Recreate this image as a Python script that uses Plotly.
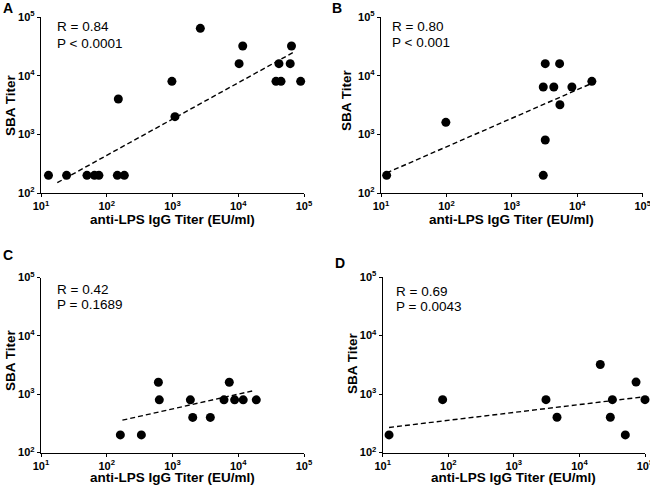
import plotly.graph_objects as go

# ---------------- data ----------------
a_x = [13, 24.5, 50, 65, 76, 145, 185, 150, 980, 1090, 2650, 10300, 11700, 37500, 44700, 41600, 61700, 64500, 89000]
a_y = [200, 200, 200, 200, 200, 200, 200, 4000, 8000, 2000, 64000, 16000, 32000, 8000, 8000, 16000, 16000, 32000, 8000]
a_fit_x = [17.7, 73000]
a_fit_y = [150, 25900]

b_x = [12.2, 98, 3020, 3240, 3020, 3240, 4380, 5370, 5430, 8280, 16700]
b_y = [200, 1600, 200, 800, 6400, 16000, 6400, 16000, 3200, 6400, 8000]
b_fit_x = [12.2, 15800]
b_fit_y = [220, 7200]

c_x = [161, 336, 610, 630, 1870, 2030, 3760, 6070, 7310, 8810, 11900, 18800]
c_y = [200, 200, 1600, 800, 800, 400, 400, 800, 1600, 800, 800, 800]
c_fit_x = [173, 17600]
c_fit_y = [358, 1155]

d_x = [12.5, 82, 3090, 4550, 20800, 29600, 31800, 50100, 73000, 100000]
d_y = [200, 800, 800, 400, 3200, 400, 800, 200, 1600, 800]
d_fit_x = [12.5, 100000]
d_fit_y = [268, 900]

panel_labels = ["A", "B", "C", "D"]
r_texts = ["R = 0.84", "R = 0.80", "R = 0.42", "R = 0.69"]
p_texts = ["P < 0.0001", "P < 0.001", "P = 0.1689", "P = 0.0043"]

tick_vals = [10, 100, 1000, 10000, 100000]
x_tick_text = ["10<sup>1</sup>", "10<sup>2</sup>", "10<sup>3</sup>", "10<sup>4</sup>", "10<sup>5</sup>"]
y_tick_vals = [100, 1000, 10000, 100000]
y_tick_text = ["10<sup>2</sup>", "10<sup>3</sup>", "10<sup>4</sup>", "10<sup>5</sup>"]

x_title = "anti-LPS IgG Titer (EU/ml)"
y_title = "SBA Titer"

# ---------------- layout geometry (pixels) ----------------
W, H = 650, 488
FONT = "Liberation Sans, Arial, sans-serif"

# plot areas: (left, right, top, bottom) in px
areas = [
    (41, 304, 17, 193),
    (381, 642.7, 17, 193),
    (41, 304, 277.5, 452.5),
    (382.7, 645, 277, 452.5),
]

datasets = [
    (a_x, a_y, a_fit_x, a_fit_y),
    (b_x, b_y, b_fit_x, b_fit_y),
    (c_x, c_y, c_fit_x, c_fit_y),
    (d_x, d_y, d_fit_x, d_fit_y),
]

fig = go.Figure()

def px(x):
    return x / W

def py(y):
    return 1 - y / H

annotations = []
for i, ((l, r, t, b), (xs, ys, fx, fy)) in enumerate(zip(areas, datasets)):
    n = "" if i == 0 else str(i + 1)
    xa, ya = "x" + n, "y" + n
    fig.add_trace(go.Scatter(
        x=fx, y=fy, xaxis=xa, yaxis=ya, mode="lines",
        line=dict(color="black", width=1.4, dash="5px,3px"),
        showlegend=False, hoverinfo="skip"))
    fig.add_trace(go.Scatter(
        x=xs, y=ys, xaxis=xa, yaxis=ya, mode="markers",
        marker=dict(color="black", size=9, line=dict(width=0)),
        cliponaxis=False, showlegend=False))
    axis_common = dict(
        type="log", showgrid=False, zeroline=False, showline=True,
        linecolor="black", linewidth=1.3, ticks="outside", ticklen=3,
        tickwidth=1.3, tickcolor="black", mirror=False, automargin=False,
        ticklabeloverflow="allow",
        tickfont=dict(family=FONT, size=11, color="black", weight="bold"),
    )
    fig.layout["xaxis" + n] = dict(
        axis_common, domain=[px(l), px(r)], range=[1, 5],
        tickvals=tick_vals, ticktext=x_tick_text, anchor=ya)
    fig.layout["yaxis" + n] = dict(
        axis_common, domain=[py(b), py(t)], range=[2, 5],
        tickvals=y_tick_vals, ticktext=y_tick_text, anchor=xa)

    # panel letter
    letter_pos = [(8, 8), (337, 8), (8, 255), (340, 263)][i]
    annotations.append(dict(
        x=px(letter_pos[0]), y=py(letter_pos[1]), xref="paper", yref="paper",
        text="<b>%s</b>" % panel_labels[i], showarrow=False,
        xanchor="center", yanchor="middle",
        font=dict(family=FONT, size=14, color="black")))
    # R / P text
    rp_pos = [(55, 27, 43), (390.5, 27, 42), (55, 289, 304), (394, 291, 306)][i]
    annotations.append(dict(
        x=px(rp_pos[0]), y=py(rp_pos[1]), xref="paper", yref="paper",
        text=r_texts[i], showarrow=False, xanchor="left", yanchor="middle",
        font=dict(family=FONT, size=13.5, color="black")))
    annotations.append(dict(
        x=px(rp_pos[0]), y=py(rp_pos[2]), xref="paper", yref="paper",
        text=p_texts[i], showarrow=False, xanchor="left", yanchor="middle",
        font=dict(family=FONT, size=13.5, color="black")))
    # axis titles
    xt_y = [219, 219, 477, 477][i]
    annotations.append(dict(
        x=px((l + r) / 2), y=py(xt_y), xref="paper", yref="paper",
        text="<b>%s</b>" % x_title, showarrow=False,
        xanchor="center", yanchor="middle",
        font=dict(family=FONT, size=13.5, color="black")))
    yt_x = [10, 346, 10, 352][i]
    yt_y = [105, 100, 360, 363][i]
    annotations.append(dict(
        x=px(yt_x), y=py(yt_y), xref="paper", yref="paper",
        text="<b>%s</b>" % y_title, showarrow=False, textangle=-90,
        xanchor="center", yanchor="middle",
        font=dict(family=FONT, size=13.5, color="black")))

fig.update_layout(
    width=W, height=H,
    margin=dict(l=0, r=0, t=0, b=0),
    paper_bgcolor="white", plot_bgcolor="white",
    annotations=annotations,
    font=dict(family=FONT, color="black"),
)

fig.write_html(
    "out.html",
    config={"displayModeBar": False},
    post_script="document.body.style.margin='0';document.body.style.overflow='hidden';",
)
